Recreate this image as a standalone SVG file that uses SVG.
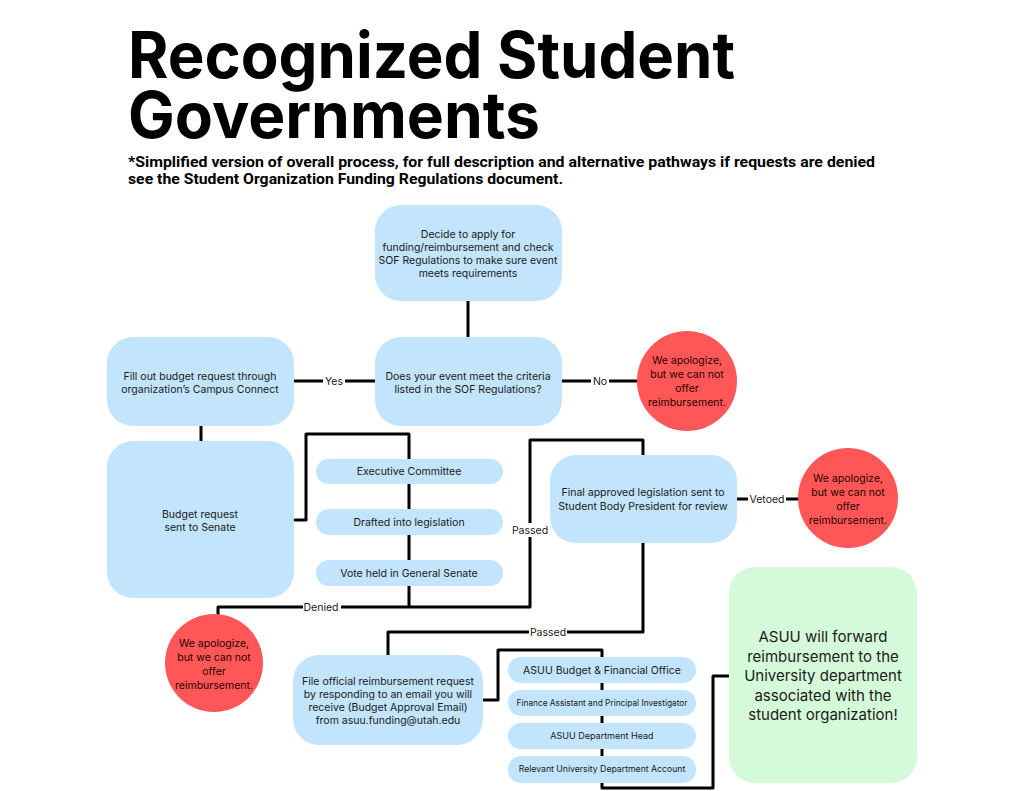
<svg xmlns="http://www.w3.org/2000/svg" width="1024" height="791" viewBox="0 0 1024 791">
<style>
.blue{fill:#C2E4FC}
.red{fill:#FF5757}
.green{fill:#D5FAD9}
.t{font-family:Inter,"DejaVu Sans",sans-serif;font-size:10.5px;fill:#1a1a1a;text-anchor:middle}
.ts{font-family:Inter,"DejaVu Sans",sans-serif;font-size:8.3px;fill:#1a1a1a;text-anchor:middle}
.tr{font-family:Inter,"DejaVu Sans",sans-serif;font-size:10.5px;fill:#2a0000;text-anchor:middle}
.tg{font-family:Inter,"DejaVu Sans",sans-serif;font-size:15px;fill:#1a1a1a;text-anchor:middle}
.lbl{font-family:Inter,"DejaVu Sans",sans-serif;font-size:10.5px;fill:#1a1a1a;text-anchor:middle}
.ln{fill:none;stroke:#000;stroke-width:3;stroke-linejoin:round;stroke-linecap:butt}
.bg{fill:#fff}
.title{font-family:Inter,"Liberation Sans",sans-serif;font-weight:700;font-size:64px;fill:#000}
.sub{font-family:Roboto,"Liberation Sans",sans-serif;font-weight:700;font-size:14.5px;fill:#000}
</style>
<rect width="1024" height="791" fill="#fff"/>
<g id="title">
<text class="title" x="128" y="78" textLength="607" lengthAdjust="spacingAndGlyphs">Recognized Student</text>
<text class="title" x="128" y="138" textLength="412" lengthAdjust="spacingAndGlyphs">Governments</text>
<text class="sub" x="128" y="167" textLength="747" lengthAdjust="spacingAndGlyphs">*Simplified version of overall process, for full description and alternative pathways if requests are denied</text>
<text class="sub" x="128" y="184" textLength="435" lengthAdjust="spacingAndGlyphs">see the Student Organization Funding Regulations document.</text>
</g>
<g id="connectors">
<path class="ln" d="M468 301V337"/>
<path class="ln" d="M294 381H375"/>
<path class="ln" d="M562 381H638"/>
<path class="ln" d="M201 426V441"/>
<path class="ln" d="M294 520H306V434H409V607"/>
<path class="ln" d="M409 607H218V615"/>
<path class="ln" d="M409 607H530V440H643V455"/>
<path class="ln" d="M737 499H799"/>
<path class="ln" d="M643 543V632H388V655"/>
<path class="ln" d="M483 700H498V650H602V788H713V676H729"/>
<rect class="bg" x="323" y="374" width="22" height="14"/>
<text class="lbl" x="334" y="385">Yes</text>
<rect class="bg" x="591" y="374" width="18" height="14"/>
<text class="lbl" x="600" y="385">No</text>
<rect class="bg" x="748" y="492" width="38" height="14"/>
<text class="lbl" x="767" y="503">Vetoed</text>
<rect class="bg" x="303" y="600" width="38" height="14"/>
<text class="lbl" x="321" y="611">Denied</text>
<rect class="bg" x="511" y="523" width="38" height="14"/>
<text class="lbl" x="530" y="534">Passed</text>
<rect class="bg" x="529" y="625" width="38" height="14"/>
<text class="lbl" x="548" y="636">Passed</text>
</g>
<g id="n-decide">
<rect class="blue" x="375" y="205" width="187" height="96" rx="26"/>
<text class="t" x="468" y="238">Decide to apply for</text>
<text class="t" x="468" y="251">funding/reimbursement and check</text>
<text class="t" x="468" y="264">SOF Regulations to make sure event</text>
<text class="t" x="468" y="277">meets requirements</text>
</g>
<g id="n-criteria">
<rect class="blue" x="375" y="337" width="187" height="89" rx="26"/>
<text class="t" x="468" y="380">Does your event meet the criteria</text>
<text class="t" x="468" y="393">listed in the SOF Regulations?</text>
</g>
<g id="n-fillout">
<rect class="blue" x="107" y="337" width="187" height="89" rx="26"/>
<text class="t" x="200" y="380">Fill out budget request through</text>
<text class="t" x="200" y="393">organization’s Campus Connect</text>
</g>
<g id="n-no1">
<circle class="red" cx="687" cy="381" r="50"/>
<text class="tr" x="687" y="364">We apologize,</text>
<text class="tr" x="687" y="378">but we can not</text>
<text class="tr" x="687" y="392">offer</text>
<text class="tr" x="687" y="406">reimbursement.</text>
</g>
<g id="n-senate">
<rect class="blue" x="107" y="441" width="187" height="157" rx="26"/>
<text class="t" x="200" y="518">Budget request</text>
<text class="t" x="200" y="531">sent to Senate</text>
</g>
<g id="n-exec">
<rect class="blue" x="316" y="459" width="187" height="25" rx="12.5"/>
<text class="t" x="409" y="475">Executive Committee</text>
</g>
<g id="n-drafted">
<rect class="blue" x="316" y="509" width="187" height="26" rx="13"/>
<text class="t" x="409" y="526">Drafted into legislation</text>
</g>
<g id="n-vote">
<rect class="blue" x="316" y="560" width="187" height="26" rx="13"/>
<text class="t" x="409" y="577">Vote held in General Senate</text>
</g>
<g id="n-final">
<rect class="blue" x="550" y="455" width="187" height="88" rx="26"/>
<text class="t" x="643" y="496">Final approved legislation sent to</text>
<text class="t" x="643" y="510">Student Body President for review</text>
</g>
<g id="n-no2">
<circle class="red" cx="848" cy="498" r="50"/>
<text class="tr" x="848" y="482">We apologize,</text>
<text class="tr" x="848" y="496">but we can not</text>
<text class="tr" x="848" y="510">offer</text>
<text class="tr" x="848" y="524">reimbursement.</text>
</g>
<g id="n-no3">
<circle class="red" cx="214" cy="663" r="49"/>
<text class="tr" x="214" y="647">We apologize,</text>
<text class="tr" x="214" y="661">but we can not</text>
<text class="tr" x="214" y="675">offer</text>
<text class="tr" x="214" y="689">reimbursement.</text>
</g>
<g id="n-file">
<rect class="blue" x="293" y="655" width="190" height="90" rx="26"/>
<text class="t" x="388" y="685">File official reimbursement request</text>
<text class="t" x="388" y="698">by responding to an email you will</text>
<text class="t" x="388" y="711">receive (Budget Approval Email)</text>
<text class="t" x="388" y="724">from asuu.funding@utah.edu</text>
</g>
<g id="n-asuu-budget">
<rect class="blue" x="508" y="657" width="188" height="26" rx="13"/>
<text class="t" x="602" y="674">ASUU Budget &amp; Financial Office</text>
</g>
<g id="n-finance">
<rect class="blue" x="508" y="690" width="188" height="26" rx="13"/>
<text class="ts" x="602" y="706">Finance Assistant and Principal Investigator</text>
</g>
<g id="n-depthead">
<rect class="blue" x="508" y="723" width="188" height="26" rx="13"/>
<text class="ts" x="602" y="739" style="font-size:9px">ASUU Department Head</text>
</g>
<g id="n-account">
<rect class="blue" x="508" y="756" width="188" height="27" rx="13"/>
<text class="ts" x="602" y="772" style="font-size:8.7px">Relevant University Department Account</text>
</g>
<g id="n-forward">
<rect class="green" x="729" y="567" width="188" height="216" rx="26"/>
<text class="tg" x="823" y="642">ASUU will forward</text>
<text class="tg" x="823" y="662">reimbursement to the</text>
<text class="tg" x="823" y="681">University department</text>
<text class="tg" x="823" y="701">associated with the</text>
<text class="tg" x="823" y="720">student organization!</text>
</g>
</svg>
